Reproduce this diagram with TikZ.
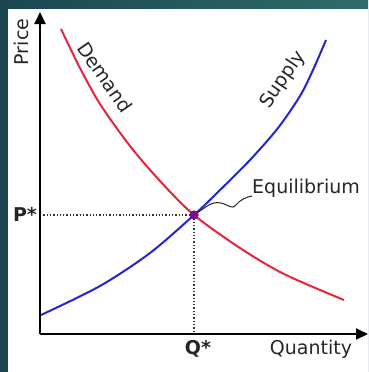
\documentclass[tikz,border=0pt]{standalone}
\usepackage{fontspec}
\setmainfont{DejaVu Sans}
\usetikzlibrary{arrows.meta}
\definecolor{tealA}{HTML}{1B4650}
\definecolor{tealB}{HTML}{2E6C6A}
\definecolor{dred}{HTML}{E6243C}
\definecolor{dblue}{HTML}{2424D6}
\definecolor{eqpurple}{HTML}{7A0C86}
\begin{document}
\begin{tikzpicture}[x=1pt,y=-1pt,
  lbl/.style={font=\fontsize{19}{22}\selectfont, inner sep=0pt, text=black!85},
  blbl/.style={font=\fontsize{19}{22}\selectfont\bfseries, inner sep=0pt, text=black!85},
  axisline/.style={line width=2pt, -{Triangle[length=12pt,width=11pt]}},
  dcurve/.style={line width=2pt, dred},
  scurve/.style={line width=2pt, dblue},
  guide/.style={line width=1.3pt, dotted, black!80},
  squig/.style={line width=1pt, black!85}]
\useasboundingbox (0,0) rectangle (368,372);
\shade[left color=tealA, right color=tealB] (0,0) rectangle (368,372);
\fill[white] (8,9) rectangle (368,372);
% axes
\coordinate (O) at (40,334);
\coordinate (ytip) at (40,12);
\coordinate (xtip) at (368,334);
\coordinate (pstar) at (40,215);
\coordinate (qstar) at (194,334);
% equilibrium point
\node[circle, fill=eqpurple, minimum size=9pt, inner sep=0pt] (eq) at (194,215) {};
% guides
\draw[guide] (pstar) -- (eq.center);
\draw[guide] (eq.center) -- (qstar);
% curves
\draw[dcurve] plot[smooth] coordinates {(61,29) (80,68) (100,104) (130,146) (160,181) (194,215) (240,248) (284,274) (344,300)};
\draw[scurve] plot[smooth] coordinates {(41,315) (100,286) (150,253) (194,215) (217,193) (250,160) (278,128) (300,96) (313,70) (326,40)};
\node[circle, fill=eqpurple, minimum size=9pt, inner sep=0pt] at (eq.center) {};
\draw[axisline] (O) -- (ytip);
\draw[axisline] (O) -- (xtip);
% labels
\node[lbl, rotate=90] (price) at (21,42) {Price};
\node[lbl, rotate=-55] (demand) at (105,77) {Demand};
\node[lbl, rotate=56] (supply) at (283,80) {Supply};
\node[blbl] (plbl) at (25,214) {P*};
\node[blbl] (qlbl) at (198,349) {Q*};
\node[lbl] (qty) at (311,349) {Quantity};
\node[lbl, anchor=west] (eqlbl) at (252,188) {Equilibrium};
\draw[squig] (eq) .. controls (206,207) and (212,201) .. (221,203) .. controls (229,205) and (232,210) .. (236,205) .. controls (240,200) and (246,197) .. (252,196);
\end{tikzpicture}
\end{document}
